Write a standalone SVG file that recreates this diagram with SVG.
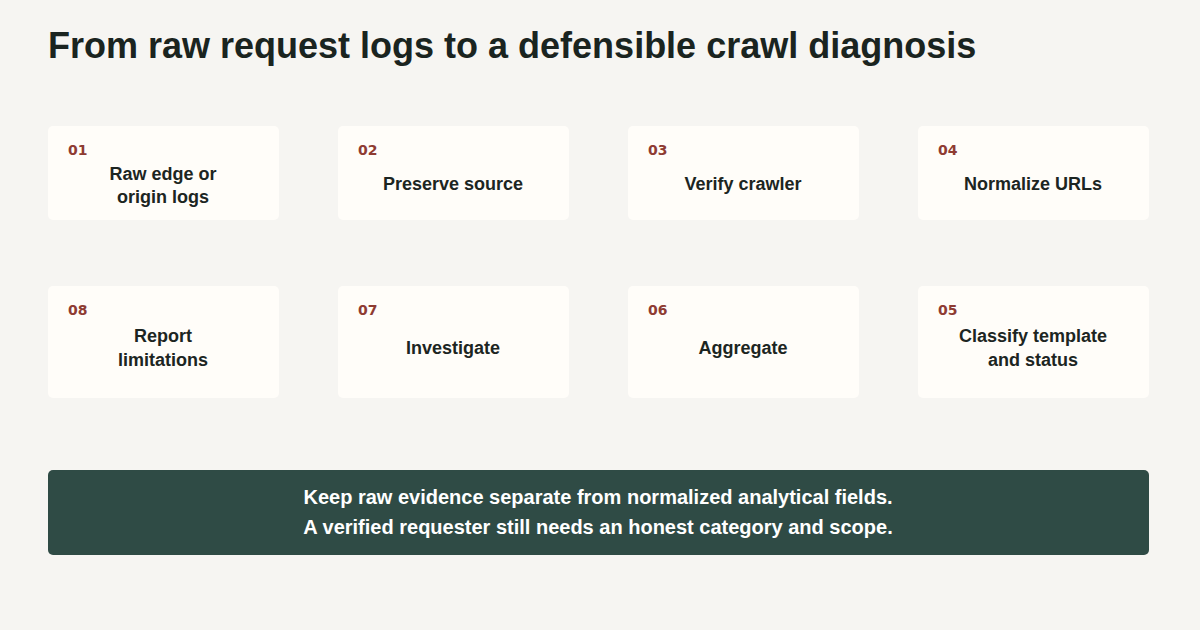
<svg xmlns="http://www.w3.org/2000/svg" width="1200" height="630" viewBox="0 0 1200 630">
<style>
.card{fill:#fffdf9}
.num{font-family:"DejaVu Sans",sans-serif;font-weight:bold;font-size:14px;fill:#8e3b32}
.lbl{font-family:"Liberation Sans",Arial,sans-serif;font-weight:bold;font-size:18px;fill:#1c2522;text-anchor:middle}
.title{font-family:"Liberation Sans",Arial,sans-serif;font-weight:bold;font-size:36px;fill:#1a2420}
.note{font-family:"Liberation Sans",Arial,sans-serif;font-weight:bold;font-size:20px;fill:#ffffff;text-anchor:middle}
</style>
<rect width="1200" height="630" fill="#f6f5f2"/>
<text class="title" x="48" y="58">From raw request logs to a defensible crawl diagnosis</text>
<g id="connectors"></g>
<g id="n01"><rect class="card" x="48" y="126" width="231" height="94" rx="5"/><text class="num" x="68" y="155">01</text><text class="lbl" x="163" y="180">Raw edge or</text><text class="lbl" x="163" y="203">origin logs</text></g>
<g id="n02"><rect class="card" x="338" y="126" width="231" height="94" rx="5"/><text class="num" x="358" y="155">02</text><text class="lbl" x="453" y="190">Preserve source</text></g>
<g id="n03"><rect class="card" x="628" y="126" width="231" height="94" rx="5"/><text class="num" x="648" y="155">03</text><text class="lbl" x="743" y="190">Verify crawler</text></g>
<g id="n04"><rect class="card" x="918" y="126" width="231" height="94" rx="5"/><text class="num" x="938" y="155">04</text><text class="lbl" x="1033" y="190">Normalize URLs</text></g>
<g id="n08"><rect class="card" x="48" y="286" width="231" height="112" rx="5"/><text class="num" x="68" y="315">08</text><text class="lbl" x="163" y="342">Report</text><text class="lbl" x="163" y="366">limitations</text></g>
<g id="n07"><rect class="card" x="338" y="286" width="231" height="112" rx="5"/><text class="num" x="358" y="315">07</text><text class="lbl" x="453" y="354">Investigate</text></g>
<g id="n06"><rect class="card" x="628" y="286" width="231" height="112" rx="5"/><text class="num" x="648" y="315">06</text><text class="lbl" x="743" y="354">Aggregate</text></g>
<g id="n05"><rect class="card" x="918" y="286" width="231" height="112" rx="5"/><text class="num" x="938" y="315">05</text><text class="lbl" x="1033" y="342">Classify template</text><text class="lbl" x="1033" y="366">and status</text></g>
<g id="note"><rect x="48" y="470" width="1101" height="85" rx="5" fill="#2f4b45"/><text class="note" x="598" y="504">Keep raw evidence separate from normalized analytical fields.</text><text class="note" x="598" y="534">A verified requester still needs an honest category and scope.</text></g>
</svg>
